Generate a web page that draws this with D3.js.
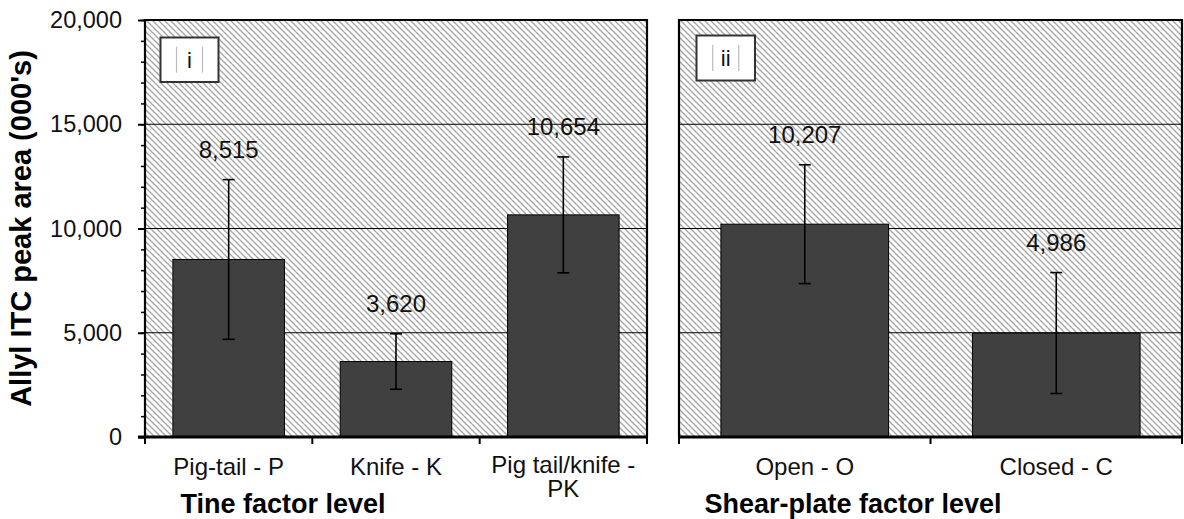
<!DOCTYPE html>
<html><head><meta charset="utf-8">
<script src="https://cdn.jsdelivr.net/npm/d3@7"></script>
<style>
html,body{margin:0;padding:0;background:#fff;}
svg{display:block;font-family:"Liberation Sans",Arial,sans-serif;}
</style></head>
<body>
<svg id="c" width="1184" height="519"></svg>
<script>
// ---- data ----
const tineCategories = [["Pig-tail - P"], ["Knife - K"], ["Pig tail/knife -", "PK"]];
const tineMeans = [8515, 3620, 10654];
const tineErrors = [3830, 1330, 2780];
const shearCategories = [["Open - O"], ["Closed - C"]];
const shearMeans = [10207, 4986];
const shearErrors = [2850, 2900];
const yTicks = [0, 5000, 10000, 15000, 20000];
const panelTags = ["i", "ii"];
const xTitles = ["Tine factor level", "Shear-plate factor level"];
const yTitle = "Allyl ITC peak area (000's)";

(function(){
const svg = d3.select("#c");
const defs = svg.append("defs");
const pat = defs.append("pattern").attr("id","hatch").attr("patternUnits","userSpaceOnUse")
  .attr("width",6).attr("height",6);
pat.append("rect").attr("width",6).attr("height",6).attr("fill","#fff");
pat.append("path").attr("d","M-1,-1 L7,7 M-1,5 L1,7 M5,-1 L7,1").attr("stroke","#a8a8a8").attr("stroke-width",1.4);

const plotTop = 20, plotBottom = 437;
const y = d3.scaleLinear().domain([0,20000]).range([plotBottom, plotTop]);

const panels = [
  {x0:145, x1:647, cats:tineCategories, means:tineMeans, errs:tineErrors, tag:panelTags[0], title:xTitles[0], titleX:283,
   tagBox:[160.5,37.5,58,44.5]},
  {x0:679, x1:1182, cats:shearCategories, means:shearMeans, errs:shearErrors, tag:panelTags[1], title:xTitles[1], titleX:853,
   tagBox:[696.5,35.5,58.5,45]}
];

panels.forEach((p, pi) => {
  const g = svg.append("g");
  const x = d3.scaleBand().domain(p.cats.map((c,i)=>i)).range([p.x0,p.x1])
    .paddingInner(1/3).paddingOuter(1/6);
  const step = x.step();
  g.append("rect").attr("x",p.x0).attr("y",plotTop).attr("width",p.x1-p.x0).attr("height",plotBottom-plotTop).attr("fill","url(#hatch)");
  g.selectAll(".grid").data(yTicks.filter(t=>t>0 && t<20000)).join("line")
    .attr("x1",p.x0).attr("x2",p.x1).attr("y1",d=>y(d)).attr("y2",d=>y(d))
    .attr("stroke","#000").attr("stroke-width",1);
  const [bx,by,bw,bh] = p.tagBox;
  g.append("rect").attr("x",bx).attr("y",by).attr("width",bw).attr("height",bh)
    .attr("fill","#fff").attr("stroke","#333").attr("stroke-width",2);
  const cx = bx + bw/2, cy = by + bh/2;
  [-13,13].forEach(dx=>{
    g.append("line").attr("x1",cx+dx).attr("x2",cx+dx).attr("y1",cy-13).attr("y2",cy+13)
      .attr("stroke","#bbb").attr("stroke-width",1.2);
  });
  g.append("text").attr("x",cx).attr("y",cy+8).attr("text-anchor","middle")
    .attr("font-size",22).attr("fill","#111").text(p.tag);
  g.selectAll(".bar").data(p.means).join("rect")
    .attr("x",(d,i)=>x(i)).attr("width",x.bandwidth())
    .attr("y",d=>y(d)).attr("height",d=>plotBottom-y(d))
    .attr("fill","#404040").attr("stroke","#000").attr("stroke-width",1);
  p.means.forEach((m,i)=>{
    const e = p.errs[i], c = x(i)+x.bandwidth()/2;
    g.append("line").attr("x1",c).attr("x2",c).attr("y1",y(m+e)).attr("y2",y(m-e)).attr("stroke","#000").attr("stroke-width",1.6);
    [m+e,m-e].forEach(v=>g.append("line").attr("x1",c-6).attr("x2",c+6).attr("y1",y(v)).attr("y2",y(v)).attr("stroke","#000").attr("stroke-width",1.6));
    g.append("text").attr("x",c).attr("y",y(m+e)-22).attr("text-anchor","middle")
      .attr("font-size",24).attr("fill","#111").text(d3.format(",")(m));
  });
  p.cats.forEach((lines,i)=>{
    const c = x(i)+x.bandwidth()/2;
    const t = g.append("text").attr("x",c).attr("y",lines.length>1?473:475).attr("text-anchor","middle")
      .attr("font-size",24).attr("fill","#111");
    lines.forEach((s,li)=>t.append("tspan").attr("x",c).attr("dy",li===0?0:24).text(s));
  });
  g.append("path").attr("d",`M${p.x0},${plotBottom} L${p.x0},${plotTop} L${p.x1},${plotTop} L${p.x1},${plotBottom}`)
    .attr("fill","none").attr("stroke","#000").attr("stroke-width",2.2);
  g.append("line").attr("x1",p.x0-(pi===0?7:0)).attr("x2",p.x1).attr("y1",plotBottom).attr("y2",plotBottom)
    .attr("stroke","#000").attr("stroke-width",3);
  d3.range(p.cats.length+1).forEach(k=>{
    const xx = p.x0 + k*step;
    g.append("line").attr("x1",xx).attr("x2",xx).attr("y1",plotBottom).attr("y2",plotBottom+7).attr("stroke","#000").attr("stroke-width",2);
  });
  g.append("text").attr("x",p.titleX).attr("y",513).attr("text-anchor","middle")
    .attr("font-size",27).attr("font-weight","bold").attr("fill","#000").text(p.title);
});

const yAxisG = svg.append("g").attr("transform","translate(145,0)");
yAxisG.call(d3.axisLeft(y).tickValues(d3.range(0,20001,1000)).tickSize(4).tickFormat(""))
  .call(g=>g.select(".domain").remove())
  .call(g=>g.selectAll("line").attr("stroke-width",1.5));
yAxisG.append("g").call(d3.axisLeft(y).tickValues(yTicks).tickSize(7).tickPadding(16).tickFormat(d3.format(",")))
  .call(g=>g.select(".domain").remove())
  .call(g=>g.selectAll("line").attr("stroke-width",2))
  .call(g=>g.selectAll("text").attr("font-size",23.5).attr("font-family","Liberation Sans, Arial, sans-serif").attr("fill","#111"));

svg.append("text").attr("transform",`translate(31,${(plotTop+plotBottom)/2}) rotate(-90)`)
  .attr("text-anchor","middle").attr("font-size",29).attr("font-weight","bold").attr("fill","#000").text(yTitle);
})();
</script>
</body></html>
